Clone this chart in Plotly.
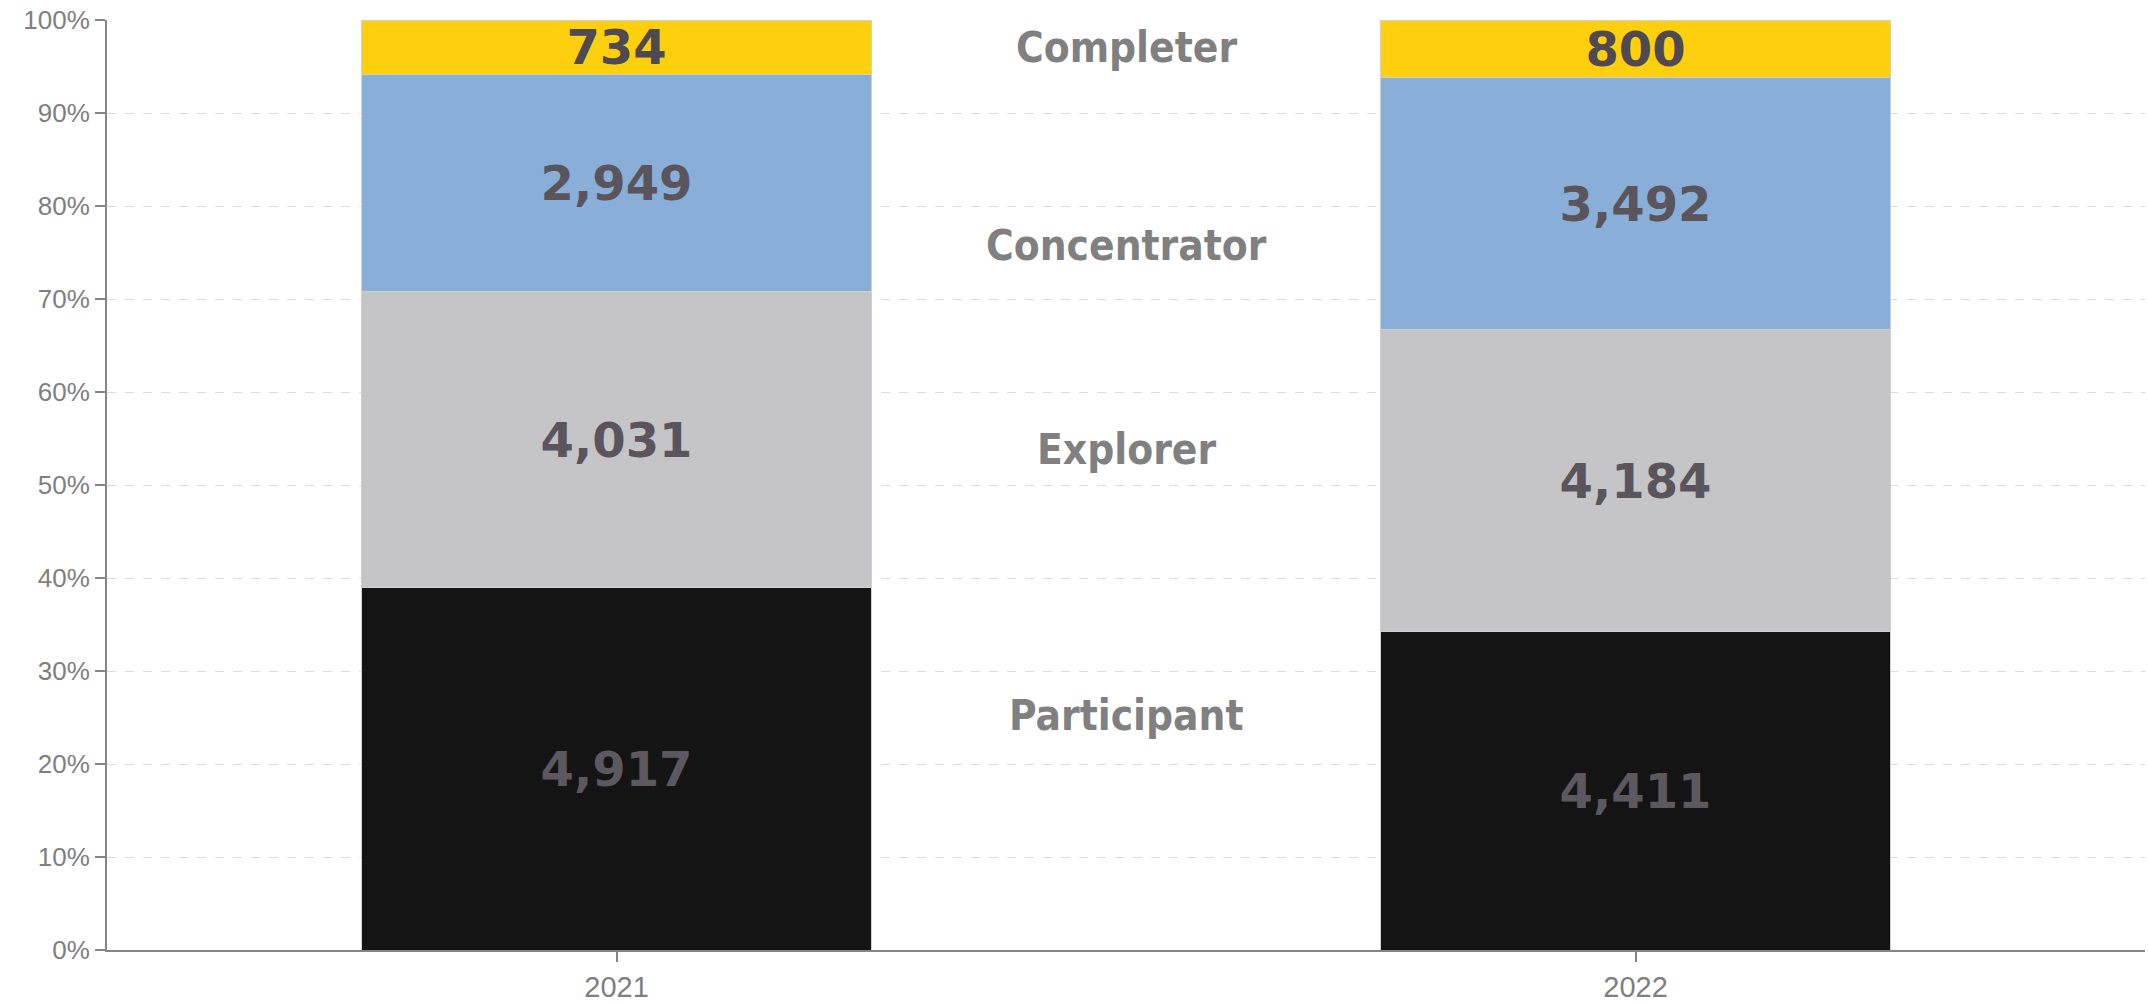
import plotly.graph_objects as go

years = ["2021", "2022"]
series_names = ["Participant", "Explorer", "Concentrator", "Completer"]
participant = [4917, 4411]
explorer = [4031, 4184]
concentrator = [2949, 3492]
completer = [734, 800]
series_values = [participant, explorer, concentrator, completer]
colors = ["#141414", "#c5c5c7", "#89aed8", "#fecf0c"]
text_colors = ["#5d585f", "#5a555c", "#5a555c", "#4e4953"]
label_y = [25.2, 53.8, 75.7, 97.0]
y_ticks = list(range(0, 101, 10))

fig = go.Figure()
for name, vals, col, tcol in zip(series_names, series_values, colors, text_colors):
    fig.add_trace(go.Bar(
        x=years, y=vals, name=name,
        marker=dict(color=col, line=dict(color="#cfcfcf", width=1)),
        text=[f"{v:,}" for v in vals],
        textposition="inside", insidetextanchor="middle",
        constraintext="none",
        textfont=dict(family="DejaVu Sans", size=48, color=tcol, weight="bold"),
        hoverinfo="skip",
    ))

for name, yy in zip(series_names, label_y):
    fig.add_annotation(
        x=0.5, y=yy, xref="x", yref="y", text=f"<b>{name}</b>", showarrow=False,
        font=dict(family="DejaVu Sans Condensed, sans-serif", size=42, color="#808080"),
        xanchor="center", yanchor="middle",
    )

fig.update_layout(
    barmode="stack", barnorm="percent", bargap=0.5,
    width=2148, height=1005,
    margin=dict(l=107, r=3, t=20, b=55),
    plot_bgcolor="white", paper_bgcolor="white",
    showlegend=False,
    xaxis=dict(
        type="category", range=[-0.5, 1.5],
        showline=True, linecolor="#858585", linewidth=2,
        ticks="outside", ticklen=10, tickcolor="#858585", tickwidth=2,
        tickfont=dict(family="Liberation Sans", size=29, color="#7f7f7f"),
        showgrid=False,
    ),
    yaxis=dict(
        range=[0, 100], tickvals=y_ticks, ticktext=[f"{t}%" for t in y_ticks],
        showline=True, linecolor="#858585", linewidth=2,
        ticks="outside", ticklen=10, tickcolor="#858585", tickwidth=2,
        tickfont=dict(family="Liberation Sans", size=26, color="#7f7f7f"),
        showgrid=True, gridcolor="#dcdcdc", gridwidth=1, griddash="dash",
        zeroline=False,
    ),
)

fig.write_html(
    "out.html",
    config={"displayModeBar": False},
    post_script="document.body.style.margin='0';document.body.style.overflow='hidden';",
)
